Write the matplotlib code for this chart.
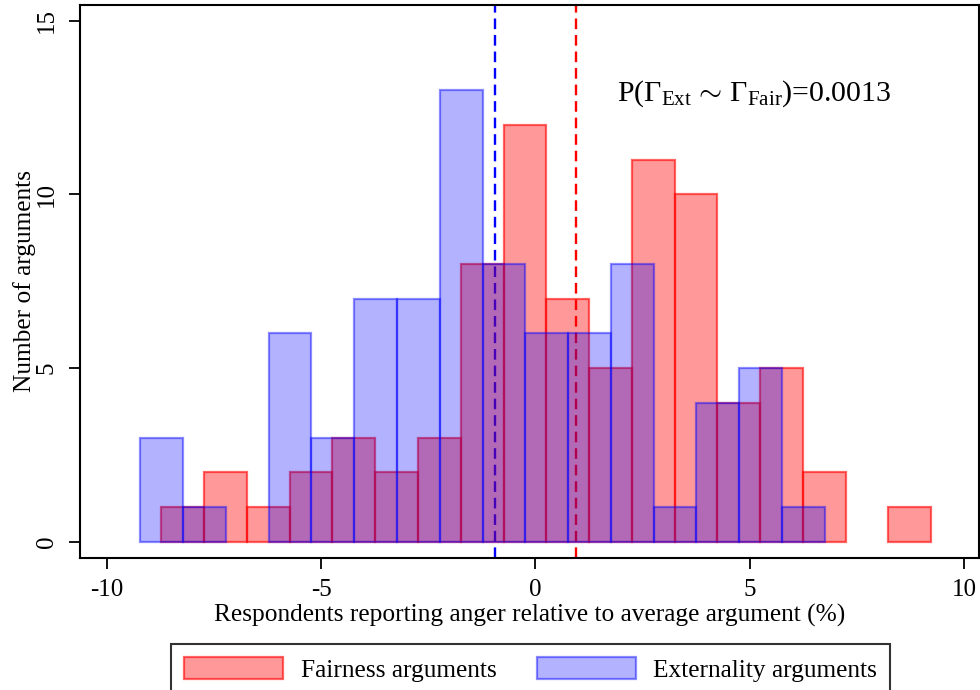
import numpy as np
import matplotlib
matplotlib.use("Agg")
import matplotlib.pyplot as plt

plt.rcParams["font.family"] = ["Liberation Serif", "DejaVu Serif"]
plt.rcParams["mathtext.fontset"] = "custom"
plt.rcParams["mathtext.rm"] = "Liberation Serif"
plt.rcParams["mathtext.it"] = "Liberation Serif:italic"
plt.rcParams["axes.unicode_minus"] = False

# histogram bins
bin_width = 0.998
fair_start = -8.73
ext_start = -9.22
fair_counts = np.array([1, 2, 1, 2, 3, 2, 3, 8, 12, 7, 5, 11, 10, 4, 5, 2, 0, 1])
ext_counts = np.array([3, 1, 0, 6, 3, 7, 7, 13, 8, 6, 6, 8, 1, 4, 5, 1])
fair_mean = 0.94
ext_mean = -0.95
p_value = "0.0013"

fair_left = fair_start + bin_width * np.arange(len(fair_counts))
ext_left = ext_start + bin_width * np.arange(len(ext_counts))

fig = plt.figure(figsize=(9.8, 6.9), dpi=100)
ax = fig.add_axes([0.0816, 0.1913, 0.9174, 0.8015])

ax.axvline(ext_mean, color="blue", ls=(0, (4.5, 2.5)), lw=1.7, zorder=1)
ax.axvline(fair_mean, color="red", ls=(0, (4.5, 2.5)), lw=1.7, zorder=1)

m = fair_counts > 0
fair = ax.bar(fair_left[m], fair_counts[m], width=bin_width, align="edge",
              facecolor=(1, 0, 0, 0.4), edgecolor=(1, 0, 0, 0.6), lw=1.6,
              zorder=2, label="Fairness arguments")
m = ext_counts > 0
ext = ax.bar(ext_left[m], ext_counts[m], width=bin_width, align="edge",
             facecolor=(0, 0, 1, 0.3), edgecolor=(0, 0, 1, 0.45), lw=1.6,
             zorder=3, label="Externality arguments")

ax.set_xlim(-10.63, 10.35)
ax.set_ylim(-0.46, 15.45)
ax.set_xticks([-10, -5, 0, 5, 10])
ax.set_yticks([0, 5, 10, 15])
ax.tick_params(length=8, width=1.3, labelsize=18)
ax.tick_params(axis="x", pad=7)
ax.tick_params(axis="y", pad=8)
for lab in ax.get_yticklabels():
    lab.set_rotation(90)
    lab.set_va("center")
for s in ax.spines.values():
    s.set_linewidth(1.5)

ax.set_xlabel("Respondents reporting anger relative to average argument (%)",
              fontsize=18.3, labelpad=2)
ax.set_ylabel("Number of arguments", fontsize=18.3, labelpad=0)

ax.text(1.9, 12.69,
        r"$\mathrm{P(}\Gamma_{\mathrm{Ext}}\,\sim\,\Gamma_{\mathrm{Fair}}\mathrm{)}$=" + p_value,
        fontsize=21.5, ha="left", va="baseline")

leg = fig.legend(handles=[fair, ext], loc="upper left",
                 bbox_to_anchor=(0.1745, 0.0, 0.7337, 1 - 644 / 690),
                 mode="expand", ncol=2, fontsize=18.3, frameon=True,
                 fancybox=False, edgecolor="black", borderaxespad=0,
                 handlelength=3.9, handleheight=1.0, handletextpad=0.7,
                 borderpad=0.5)
leg.get_frame().set_linewidth(1.5)

fig.savefig("out.png", dpi=100)
